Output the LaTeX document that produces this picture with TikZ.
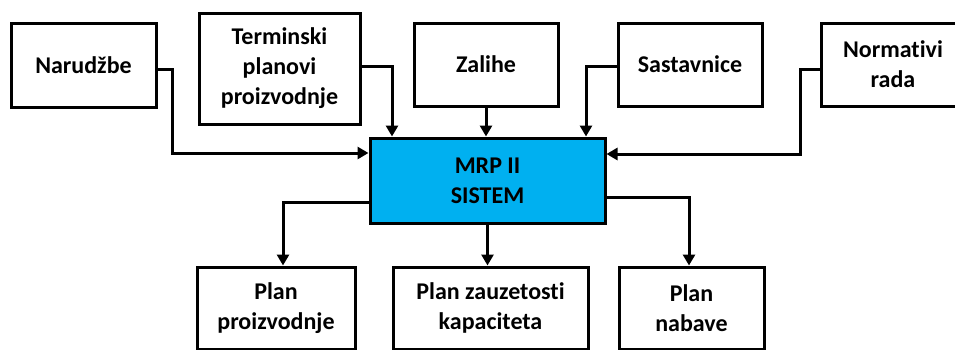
\documentclass[tikz,border=0pt]{standalone}
\usepackage{fontspec}
\setmainfont{Carlito}[Ligatures={NoCommon}]
\usetikzlibrary{arrows.meta,calc}
\definecolor{mrpblue}{RGB}{0,176,240}
\begin{document}
\begin{tikzpicture}[x=1pt,y=-1pt,
  box/.style={draw=black,line width=3pt,fill=white,align=center,inner sep=0pt,
    font=\fontsize{24}{30}\selectfont\bfseries},
  arr/.style={line width=3pt,-{Triangle[length=11pt,width=12pt]}}]
\useasboundingbox (0,0) rectangle (955,349);
\fill[white] (0,0) rectangle (955,349);
\node[box,minimum width=145pt,minimum height=84pt] (nar) at (83.5,65) {Narudžbe};
\node[box,minimum width=161pt,minimum height=111pt] (ter) at (279.5,68.5) {Terminski\\planovi\\proizvodnje};
\node[box,minimum width=144pt,minimum height=83pt] (zal) at (486,64.5) {Zalihe};
\node[box,minimum width=144pt,minimum height=83pt] (sas) at (690,64.5) {Sastavnice};
\node[box,minimum width=144pt,minimum height=83pt] (nor) at (893,64.5) {Normativi\\rada};
\node[box,fill=mrpblue,minimum width=235pt,minimum height=85pt] (mrp) at (487.5,180.5) {MRP II\\SISTEM};
\node[box,minimum width=158pt,minimum height=82pt] (pp) at (276,308) {Plan\\proizvodnje};
\node[box,minimum width=195pt,minimum height=82pt] (pz) at (490.5,308) {Plan zauzetosti\\kapaciteta};
\node[box,minimum width=145pt,minimum height=82pt] (pn) at (691.5,308) {Plan\\nabave};
% inputs
\coordinate (k1) at (172,153);
\draw[arr] ([yshift=-4pt]nar.east) -| (k1) -- (k1 -| mrp.west);
\coordinate (k2) at (392,66);
\draw[arr] ([yshift=2.5pt]ter.east) -- (k2) -- (k2 |- mrp.north);
\draw[arr] (zal.south) -- (zal.south |- mrp.north);
\coordinate (k3) at (586,66);
\draw[arr] ([yshift=-1.5pt]sas.west) -- (k3) -- (k3 |- mrp.north);
\coordinate (k4) at (800,69);
\coordinate (k5) at (800,154);
\draw[arr] ([yshift=-4.5pt]nor.west) -- (k4) -- (k5) -- (k5 -| mrp.east);
% outputs
\coordinate (k6) at (283,202);
\draw[arr] (k6 -| mrp.west) -- (k6) -- (k6 |- pp.north);
\draw[arr] (mrp.south) -- (mrp.south |- pz.north);
\coordinate (k7) at (689,197);
\draw[arr] (k7 -| mrp.east) -- (k7) -- (k7 |- pn.north);
\end{tikzpicture}
\end{document}
